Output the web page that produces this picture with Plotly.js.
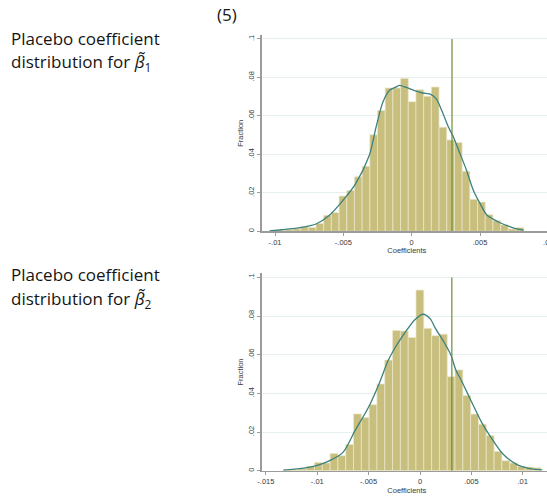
<!DOCTYPE html>
<html>
<head>
<meta charset="utf-8">
<script src="https://cdn.plot.ly/plotly-3.0.1.min.js"></script>
<style>
html, body { margin: 0; padding: 0; background: #ffffff; overflow: hidden; }
#chart { width: 555px; height: 496px; }
</style>
</head>
<body>
<div id="chart"></div>
<script>
// ---------- data ----------
// Panel 1: placebo coefficients for beta~1
const binCenters1 = [-0.0101025, -0.0095395, -0.0089765, -0.0084135, -0.0078505, -0.0072875, -0.0067245,
  -0.0061615, -0.0055985, -0.0050355, -0.0044725, -0.0039095, -0.0033465, -0.0027835, -0.0022205,
  -0.0016575, -0.0010945, -0.0005315, 0.0000315, 0.0005945, 0.0011575, 0.0017205, 0.0022835,
  0.0028465, 0.0034095, 0.0039725, 0.0045355, 0.0050985, 0.0056615, 0.0062245, 0.0067875,
  0.0073505, 0.0079135];
const fractions1 = [0.0005, 0.0005, 0.001, 0.0013, 0.0024, 0.002, 0.0041, 0.0083, 0.0098, 0.0183,
  0.0212, 0.0283, 0.0338, 0.0502, 0.0628, 0.0745, 0.0745, 0.0795, 0.0674, 0.0736, 0.0702, 0.075,
  0.0541, 0.0475, 0.0462, 0.0312, 0.0166, 0.0152, 0.0086, 0.0055, 0.0033, 0.0012, 0.0019];
const binWidth1 = 0.000563;
const kdeX1 = [-0.0104, -0.0095, -0.0084, -0.0075, -0.0070, -0.0060, -0.0050, -0.0041, -0.0031, -0.0026,
  -0.0021, -0.0016, -0.0012, -0.0009, -0.0004, 0.0002, 0.0008, 0.0014, 0.0018, 0.0022, 0.0027,
  0.0031, 0.0035, 0.0040, 0.0045, 0.0050, 0.0055, 0.0060, 0.0065, 0.0072, 0.0077, 0.0082];
const kdeY1 = [0.0002, 0.0008, 0.0016, 0.0028, 0.0038, 0.0085, 0.0163, 0.0248, 0.0395, 0.0544,
  0.0674, 0.0735, 0.0748, 0.0759, 0.0748, 0.0731, 0.0719, 0.0712, 0.0688, 0.0628, 0.0541,
  0.0483, 0.0410, 0.0320, 0.0215, 0.0145, 0.0085, 0.0062, 0.0043, 0.0024, 0.0012, 0.0006];
const actualCoef1 = 0.00295;

// Panel 2: placebo coefficients for beta~2
const binCenters2 = [-0.01293, -0.01217, -0.01141, -0.01065, -0.00989, -0.00913, -0.00837, -0.00761,
  -0.00685, -0.00609, -0.00533, -0.00457, -0.00381, -0.00305, -0.00229, -0.00153, -0.00077,
  -0.00001, 0.00075, 0.00151, 0.00227, 0.00303, 0.00379, 0.00455, 0.00531, 0.00607, 0.00683,
  0.00759, 0.00835, 0.00911, 0.00987, 0.01063, 0.01139];
const fractions2 = [0.0005, 0.0005, 0.001, 0.0023, 0.0043, 0.004, 0.0089, 0.0078, 0.0136, 0.0294,
  0.0275, 0.0342, 0.0449, 0.0573, 0.0726, 0.0723, 0.069, 0.0935, 0.0737, 0.0699, 0.0707, 0.0487,
  0.0522, 0.0389, 0.0293, 0.0241, 0.0182, 0.01, 0.0052, 0.004, 0.0022, 0.0019, 0.0015];
const binWidth2 = 0.00076;
const kdeX2 = [-0.0133, -0.0115, -0.0100, -0.0088, -0.0075, -0.0063, -0.0050, -0.0040, -0.0031, -0.0025,
  -0.0015, -0.0005, 0.0003, 0.0010, 0.0015, 0.0024, 0.0030, 0.0035, 0.0040, 0.0049, 0.0060,
  0.0070, 0.0081, 0.0094, 0.0107, 0.0119];
const kdeY2 = [0.0003, 0.0012, 0.0027, 0.0052, 0.0095, 0.0210, 0.0330, 0.0448, 0.0570, 0.0630,
  0.0712, 0.0782, 0.0810, 0.0786, 0.0737, 0.0660, 0.0600, 0.0520, 0.0470, 0.0370, 0.0250,
  0.0165, 0.0085, 0.0033, 0.0011, 0.0004];
const actualCoef2 = 0.0031;

// tick labels
const yTickVals = [0, 0.02, 0.04, 0.06, 0.08, 0.1];
const yTickText = ["0", ".02", ".04", ".06", ".08", ".1"];
const xTickVals1 = [-0.01, -0.005, 0, 0.005, 0.01];
const xTickText1 = ["-.01", "-.005", "0", ".005", ".01"];
const xTickVals2 = [-0.015, -0.01, -0.005, 0, 0.005, 0.01];
const xTickText2 = ["-.015", "-.01", "-.005", "0", ".005", ".01"];
const columnLabel = "(5)";
const rowLabels = [
  ["Placebo coefficient", "distribution for <i>β̃</i><sub>1</sub>"],
  ["Placebo coefficient", "distribution for <i>β̃</i><sub>2</sub>"]
];
const xTitle = "Coefficients";
const yTitle = "Fraction";

// ---------- drawing ----------
const W = 555, H = 496;
const barColor = "#c8bf7f";
const barLine = "rgba(236,232,200,0.9)";
const kdeColor = "#3d827c";
const vlineColor = "#718c35";
const gridColor = "#e6eff0";
const axisColor = "#9b9b9b";
const tickFont = { family: "Liberation Sans, Arial, sans-serif", size: 7.5, color: "#3a3a3a" };
const textFont = { family: "Open Sans, sans-serif", size: 17, color: "#151515" };

function px2x(p) { return p / W; }
function py2y(p) { return 1 - p / H; }

const traces = [
  { type: "bar", x: binCenters1, y: fractions1, width: binWidth1, xaxis: "x", yaxis: "y",
    marker: { color: barColor, line: { color: barLine, width: 0.8 } }, hoverinfo: "skip" },
  { type: "scatter", mode: "lines", x: kdeX1, y: kdeY1, xaxis: "x", yaxis: "y",
    line: { color: kdeColor, width: 1.3, shape: "spline", smoothing: 0.8 }, hoverinfo: "skip" },
  { type: "scatter", mode: "lines", x: [actualCoef1, actualCoef1], y: [0, 0.1], xaxis: "x", yaxis: "y",
    line: { color: vlineColor, width: 1.2 }, hoverinfo: "skip" },
  { type: "bar", x: binCenters2, y: fractions2, width: binWidth2, xaxis: "x2", yaxis: "y2",
    marker: { color: barColor, line: { color: barLine, width: 0.8 } }, hoverinfo: "skip" },
  { type: "scatter", mode: "lines", x: kdeX2, y: kdeY2, xaxis: "x2", yaxis: "y2",
    line: { color: kdeColor, width: 1.3, shape: "spline", smoothing: 0.8 }, hoverinfo: "skip" },
  { type: "scatter", mode: "lines", x: [actualCoef2, actualCoef2], y: [0, 0.1], xaxis: "x2", yaxis: "y2",
    line: { color: vlineColor, width: 1.2 }, hoverinfo: "skip" }
];

function xAxis(range, vals, text, anchor, domain) {
  return {
    domain: domain, range: range, anchor: anchor,
    showline: true, linecolor: axisColor, linewidth: 1.2, mirror: false,
    showgrid: false, zeroline: false,
    ticks: "outside", ticklen: 3, tickwidth: 1, tickcolor: axisColor,
    tickvals: vals, ticktext: text, tickfont: tickFont,
    title: { text: xTitle, font: tickFont, standoff: 1 },
    fixedrange: true
  };
}
function yAxis(range, anchor, domain) {
  return {
    domain: domain, range: range, anchor: anchor,
    showline: true, linecolor: axisColor, linewidth: 1.6,
    showgrid: true, gridcolor: gridColor, gridwidth: 1, zeroline: false,
    ticks: "outside", ticklen: 3, tickwidth: 1, tickcolor: axisColor,
    tickvals: yTickVals, ticktext: yTickText, tickangle: -90, tickfont: tickFont,
    title: { text: yTitle, font: tickFont, standoff: 2 },
    fixedrange: true
  };
}

const plotLeft = 261.7, plotRight = 552;
const layout = {
  width: W, height: H,
  margin: { l: 0, r: 0, t: 0, b: 0, pad: 0 },
  paper_bgcolor: "#ffffff", plot_bgcolor: "#ffffff",
  showlegend: false, bargap: 0,
  xaxis: xAxis([-0.01098, 0.01027], xTickVals1, xTickText1, "y", [px2x(plotLeft), px2x(plotRight)]),
  yaxis: yAxis([0, 0.1019], "x", [py2y(231.3), py2y(35.3)]),
  xaxis2: xAxis([-0.01541, 0.01285], xTickVals2, xTickText2, "y2", [px2x(plotLeft), px2x(plotRight)]),
  yaxis2: yAxis([0, 0.1022], "x2", [py2y(470.7), py2y(273.3)]),
  annotations: [
    { text: columnLabel, xref: "paper", yref: "paper", x: px2x(226.5), y: py2y(14.5),
      xanchor: "center", yanchor: "middle", showarrow: false, font: textFont },
    { text: rowLabels[0][0], xref: "paper", yref: "paper", x: px2x(9), y: py2y(39),
      xanchor: "left", yanchor: "middle", showarrow: false, font: textFont },
    { text: rowLabels[0][1], xref: "paper", yref: "paper", x: px2x(9), y: py2y(63),
      xanchor: "left", yanchor: "middle", showarrow: false, font: textFont },
    { text: rowLabels[1][0], xref: "paper", yref: "paper", x: px2x(9), y: py2y(274),
      xanchor: "left", yanchor: "middle", showarrow: false, font: textFont },
    { text: rowLabels[1][1], xref: "paper", yref: "paper", x: px2x(9), y: py2y(299),
      xanchor: "left", yanchor: "middle", showarrow: false, font: textFont }
  ]
};

Plotly.newPlot("chart", traces, layout, { displayModeBar: false, staticPlot: true });
</script>
</body>
</html>
